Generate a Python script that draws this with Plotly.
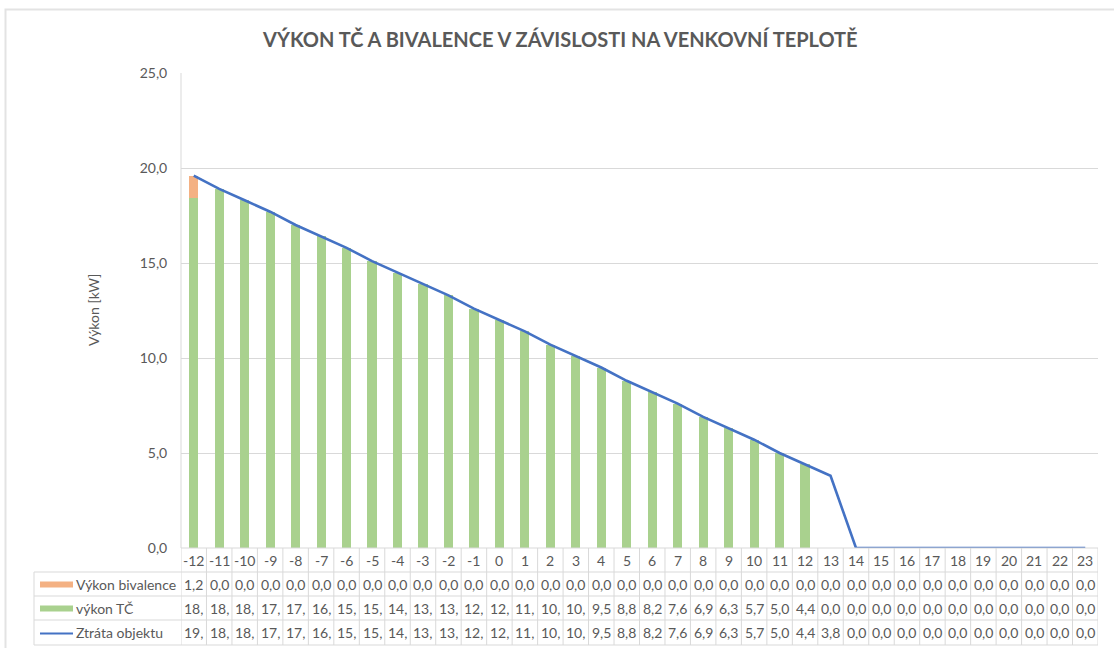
import plotly.graph_objects as go

# Outdoor temperature categories (°C)
teploty = list(range(-12, 24))

# Bivalent source output [kW]
vykon_bivalence = [1.2] + [0.0] * 35

# Heat pump output [kW]
vykon_tc = [18.4, 18.9, 18.3, 17.7, 17.0, 16.4, 15.8, 15.1, 14.5, 13.9, 13.3, 12.6,
            12.0, 11.4, 10.7, 10.1, 9.5, 8.8, 8.2, 7.6, 6.9, 6.3, 5.7, 5.0, 4.4,
            0.0, 0.0, 0.0, 0.0, 0.0, 0.0, 0.0, 0.0, 0.0, 0.0, 0.0]

# Building heat loss [kW]
ztrata_objektu = [19.6, 18.9, 18.3, 17.7, 17.0, 16.4, 15.8, 15.1, 14.5, 13.9, 13.3, 12.6,
                  12.0, 11.4, 10.7, 10.1, 9.5, 8.8, 8.2, 7.6, 6.9, 6.3, 5.7, 5.0, 4.4,
                  3.8, 0.0, 0.0, 0.0, 0.0, 0.0, 0.0, 0.0, 0.0, 0.0, 0.0]

nazvy = ["Výkon bivalence", "výkon TČ", "Ztráta objektu"]
barvy = {"orange": "#F4B183", "green": "#A9D18E", "blue": "#4472C4"}

TXT = "#595959"
GRID = "#D9D9D9"
FONT = "Lato"
FS = 14

# Figure geometry (pixels)
W_FIG, H_FIG = 1114, 648
L, R, T, B = 181, 1098, 73, 548
PW, PH = R - L, B - T


def px(x):
    return (x - L) / PW


def py(y):
    return (B - y) / PH


def cell_text(v):
    # Excel-like narrow cell: text cut to three characters
    s = f"{v:.1f}".replace(".", ",")
    return s[:3]


fig = go.Figure()

fig.add_trace(go.Bar(x=teploty, y=vykon_tc, name=nazvy[1], marker_color=barvy["green"],
                     width=0.36, marker_line_width=0))
fig.add_trace(go.Bar(x=teploty, y=vykon_bivalence, name=nazvy[0], marker_color=barvy["orange"],
                     width=0.36, marker_line_width=0))
fig.add_trace(go.Scatter(x=teploty, y=ztrata_objektu, name=nazvy[2], mode="lines",
                         line=dict(color=barvy["blue"], width=2.6)))

shapes = []
annotations = []

# Outer chart frame
shapes.append(dict(type="rect", xref="paper", yref="paper",
                   x0=px(5.5), x1=px(1125), y0=py(660), y1=py(9.5),
                   line=dict(color="#E3E3E3", width=2), fillcolor="rgba(0,0,0,0)", layer="below"))

# Vertical axis line
shapes.append(dict(type="line", xref="paper", yref="paper", x0=0, x1=0, y0=0, y1=1,
                   line=dict(color=GRID, width=1)))

# Data table grid
row_lines = [548, 572, 596, 620, 645]
for i, yy in enumerate(row_lines):
    x0 = px(L) if i == 0 else px(34)
    shapes.append(dict(type="line", xref="paper", yref="paper", x0=x0, x1=1,
                       y0=py(yy), y1=py(yy), line=dict(color=GRID, width=1)))
shapes.append(dict(type="line", xref="paper", yref="paper", x0=px(34), x1=px(34),
                   y0=py(572), y1=py(645), line=dict(color=GRID, width=1)))
for t in teploty + [teploty[-1] + 1]:
    shapes.append(dict(type="line", xref="x", yref="paper", x0=t - 0.5, x1=t - 0.5,
                       y0=py(548), y1=py(645), line=dict(color=GRID, width=1)))

# Category labels and table values
row_y = [560, 584, 608, 632]
for i, t in enumerate(teploty):
    annotations.append(dict(x=t, y=py(row_y[0]), xref="x", yref="paper", text=str(t),
                            xanchor="center", yanchor="middle", showarrow=False,
                            font=dict(size=FS, color=TXT, family=FONT)))
    for r, serie in enumerate([vykon_bivalence, vykon_tc, ztrata_objektu]):
        annotations.append(dict(x=t, y=py(row_y[r + 1]), xref="x", yref="paper",
                                text=cell_text(serie[i]), showarrow=False,
                                xanchor="center", yanchor="middle",
                                font=dict(size=FS, color=TXT, family=FONT)))

# Legend keys inside the table
for r, (nm, key) in enumerate(zip(nazvy, ["orange", "green", "blue"])):
    yc = row_y[r + 1]
    if key == "blue":
        shapes.append(dict(type="line", xref="paper", yref="paper", x0=px(40), x1=px(73),
                           y0=py(yc + 1.5), y1=py(yc + 1.5), line=dict(color=barvy[key], width=2.2)))
    else:
        shapes.append(dict(type="rect", xref="paper", yref="paper", x0=px(40), x1=px(73),
                           y0=py(yc + 3.5), y1=py(yc - 2.5), fillcolor=barvy[key],
                           line=dict(width=0)))
    annotations.append(dict(x=px(74), y=py(yc), xref="paper", yref="paper", text=nm,
                            xanchor="left", yanchor="middle", showarrow=False,
                            font=dict(size=FS, color=TXT, family=FONT)))

# Axis title
annotations.append(dict(x=px(93), y=py(310), xref="paper", yref="paper", text="Výkon [kW]",
                        textangle=-90, xanchor="center", yanchor="middle", showarrow=False,
                        font=dict(size=FS, color=TXT, family=FONT)))

fig.update_layout(
    width=W_FIG, height=H_FIG,
    margin=dict(l=L, r=W_FIG - R, t=T, b=H_FIG - B, pad=0),
    paper_bgcolor="white", plot_bgcolor="white",
    barmode="stack", showlegend=False,
    separators=",.",
    title=dict(text="<b>VÝKON TČ A BIVALENCE V ZÁVISLOSTI NA VENKOVNÍ TEPLOTĚ</b>",
               x=0.503, xanchor="center", y=1 - 40 / H_FIG, yanchor="middle",
               font=dict(size=20, color=TXT, family=FONT)),
    xaxis=dict(range=[-12.5, 23.5], showticklabels=False, showgrid=False, zeroline=False,
               showline=False, ticks=""),
    yaxis=dict(range=[0, 25], dtick=5, tickformat=".1f", showgrid=True, gridcolor=GRID,
               gridwidth=1, zeroline=False, showline=False, ticks="outside", ticklen=10,
               tickcolor="rgba(0,0,0,0)",
               tickfont=dict(size=FS, color=TXT, family=FONT)),
    shapes=shapes,
    annotations=annotations,
)

fig.write_html("out.html")
